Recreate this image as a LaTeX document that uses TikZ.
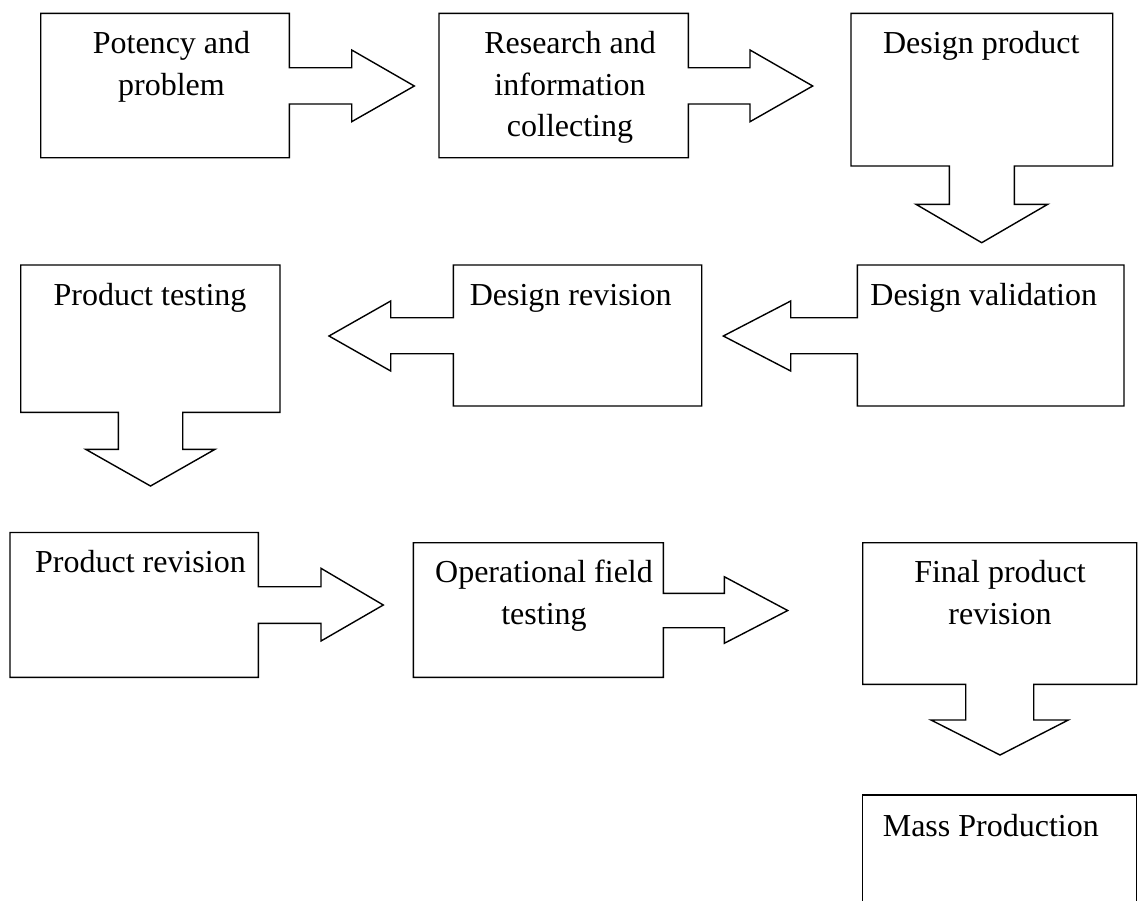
\documentclass[tikz,border=0pt]{standalone}
\usepackage{fontspec}
\setmainfont{Liberation Serif}
\tikzset{
  callout/.style={draw=black, line width=0.7pt, line join=miter, fill=white},
  lbl/.style={inner sep=0pt, anchor=base, font=\fontsize{16}{20.85}\selectfont},
}
\newcommand{\lines}[1]{\begin{tabular}[t]{@{}c@{}}#1\end{tabular}}
\begin{document}
\begin{tikzpicture}[x=0.5pt, y=-0.5pt]
\useasboundingbox (0,0) rectangle (1138,900);
\fill[white] (0,0) rectangle (1138,900);
% Row 1
\draw[callout] (40.7,13.3) -- (289.3,13.3) -- (289.3,67.7) -- (351.7,67.7) -- (351.7,50) -- (414.3,86) -- (351.7,121.7) -- (351.7,104) -- (289.3,104) -- (289.3,157.7) -- (40.7,157.7) -- cycle;
\draw[callout] (439,13.3) -- (688.3,13.3) -- (688.3,67.7) -- (750,67.7) -- (750,50) -- (812.7,86) -- (750,121.7) -- (750,104) -- (688.3,104) -- (688.3,157.7) -- (439,157.7) -- cycle;
\draw[callout] (851,13.3) -- (1112.7,13.3) -- (1112.7,166) -- (1014.3,166) -- (1014.3,204.3) -- (1047.7,204.3) -- (981.7,242.7) -- (916,204.3) -- (949.3,204.3) -- (949.3,166) -- (851,166) -- cycle;
% Row 2
\draw[callout] (857.3,265) -- (1124,265) -- (1124,406) -- (857.3,406) -- (857.3,353.7) -- (790.7,353.7) -- (790.7,371) -- (723.3,336) -- (790.7,301) -- (790.7,317.7) -- (857.3,317.7) -- cycle;
\draw[callout] (453.3,265) -- (701.7,265) -- (701.7,406) -- (453.3,406) -- (453.3,353.7) -- (390.7,353.7) -- (390.7,371) -- (329,336) -- (390.7,301) -- (390.7,317.7) -- (453.3,317.7) -- cycle;
\draw[callout] (20.7,265) -- (280,265) -- (280,412.3) -- (182.7,412.3) -- (182.7,449.3) -- (215,449.3) -- (150.5,486) -- (85.7,449.3) -- (118.3,449.3) -- (118.3,412.3) -- (20.7,412.3) -- cycle;
% Row 3
\draw[callout] (10,532.5) -- (258.3,532.5) -- (258.3,586.7) -- (321,586.7) -- (321,568.3) -- (383.3,605) -- (321,641) -- (321,623.3) -- (258.3,623.3) -- (258.3,677.3) -- (10,677.3) -- cycle;
\draw[callout] (413.3,542.7) -- (663.3,542.7) -- (663.3,593.3) -- (724.3,593.3) -- (724.3,576.7) -- (787.7,610.5) -- (724.3,643.3) -- (724.3,627.7) -- (663.3,627.7) -- (663.3,677.3) -- (413.3,677.3) -- cycle;
\draw[callout] (862.7,542.7) -- (1136.7,542.7) -- (1136.7,684.3) -- (1033.7,684.3) -- (1033.7,720) -- (1068.3,720) -- (1000,755) -- (931,720) -- (965.7,720) -- (965.7,684.3) -- (862.7,684.3) -- cycle;
% Row 4
\begin{scope}
\clip (0,0) rectangle (1138,900);
\draw[callout] (862.7,795) rectangle (1136.7,912);
\end{scope}
% Labels
\node[lbl] (t1) at (171.5,53.3) {\lines{Potency and\\problem}};
\node[lbl] (t2) at (570,53.3) {\lines{Research and\\information\\collecting}};
\node[lbl] (t3) at (981.3,53.3) {\lines{Design product}};
\node[lbl] (t4) at (983.7,305) {\lines{Design validation}};
\node[lbl] (t5) at (570.7,305) {\lines{Design revision}};
\node[lbl] (t6) at (150,305) {\lines{Product testing}};
\node[lbl] (t7) at (140.5,572.7) {\lines{Product revision}};
\node[lbl] (t8) at (544,582.7) {\lines{Operational field\\testing}};
\node[lbl] (t9) at (1000,582.7) {\lines{Final product\\revision}};
\node[lbl] (t10) at (990.8,836) {\lines{Mass Production}};
\end{tikzpicture}
\end{document}
